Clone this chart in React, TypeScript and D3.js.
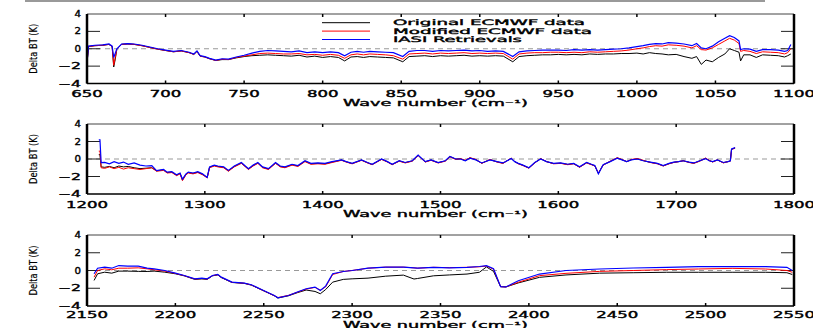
import React from "react";
import * as d3 from "d3";

// panel 1: 650-1100 cm-1
const wn1 = [650, 651, 655, 660, 664, 666, 667, 668, 669, 672,
  676, 680, 685, 690, 695, 700, 705, 710, 715, 718,
  720, 722, 725, 728, 732, 736, 740, 745, 750, 755,
  760, 765, 770, 775, 780, 785, 790, 795, 800, 805,
  810, 814, 818, 822, 826, 830, 835, 840, 845, 851,
  855, 860, 865, 870, 875, 880, 885, 890, 895, 900,
  905, 910, 915, 921, 925, 930, 935, 940, 945, 950,
  955, 960, 965, 970, 975, 980, 985, 990, 995, 1000,
  1004, 1008, 1012, 1016, 1020, 1025, 1030, 1035, 1038, 1041,
  1044, 1048, 1052, 1056, 1059, 1062, 1065, 1066, 1068, 1072,
  1076, 1080, 1085, 1090, 1094, 1096, 1098];
const orig1 = [-1.6, 0.25, 0.35, 0.4, 0.5, 0.25, -2.1, -1.2, -0.05, 0.5,
  0.55, 0.5, 0.35, 0.15, -0.05, -0.2, -0.35, -0.25, -0.45, -0.65,
  -0.3, -0.85, -0.95, -1.15, -1.35, -1.25, -1.25, -1.05, -0.9, -0.8,
  -0.75, -0.7, -0.75, -0.8, -0.85, -0.75, -0.95, -0.85, -1.0, -0.9,
  -1.0, -1.4, -0.95, -0.9, -1.0, -0.9, -0.95, -1.0, -1.05, -1.5,
  -0.9, -0.85, -0.8, -0.9, -0.8, -0.85, -0.8, -0.75, -0.85, -0.8,
  -0.85, -0.8, -0.85, -1.5, -0.9, -0.8, -0.75, -0.7, -0.7, -0.65,
  -0.7, -0.65, -0.7, -0.6, -0.65, -0.6, -0.6, -0.55, -0.55, -0.5,
  -0.6, -0.45, -0.55, -0.6, -0.7, -0.65, -0.9, -1.1, -0.9, -1.8,
  -1.3, -1.5, -1.0, -0.6, 0.0, -0.2, -0.4, -1.4, -0.7, -0.7,
  -1.0, -0.7, -0.75, -0.8, -0.95, -0.8, -0.6];
const mod1 = [-1.6, 0.25, 0.35, 0.4, 0.5, 0.25, -1.9, -1.0, -0.05, 0.5,
  0.55, 0.5, 0.35, 0.15, -0.05, -0.2, -0.35, -0.25, -0.45, -0.65,
  -0.3, -0.85, -0.95, -1.15, -1.35, -1.2, -1.25, -1.0, -0.85, -0.7,
  -0.55, -0.5, -0.55, -0.6, -0.6, -0.55, -0.7, -0.65, -0.75, -0.65,
  -0.75, -1.1, -0.7, -0.6, -0.7, -0.6, -0.65, -0.7, -0.8, -1.2,
  -0.6, -0.55, -0.5, -0.6, -0.5, -0.55, -0.5, -0.45, -0.55, -0.5,
  -0.55, -0.5, -0.55, -1.2, -0.6, -0.5, -0.45, -0.45, -0.4, -0.4,
  -0.45, -0.4, -0.45, -0.35, -0.4, -0.35, -0.3, -0.25, -0.15, 0.0,
  0.1, 0.25, 0.35, 0.3, 0.45, 0.4, 0.3, 0.1, 0.35, -0.1,
  -0.15, 0.1, 0.5, 0.9, 1.2, 1.0, 0.6, -0.3, -0.2, -0.3,
  -0.55, -0.35, -0.4, -0.45, -0.6, -0.45, 0.0];
const iasi1 = [-1.6, 0.3, 0.4, 0.45, 0.55, 0.3, -1.0, -0.5, 0.0, 0.55,
  0.6, 0.55, 0.4, 0.2, 0.0, -0.15, -0.3, -0.2, -0.4, -0.6,
  -0.25, -0.8, -0.9, -1.1, -1.3, -1.15, -1.2, -0.95, -0.75, -0.5,
  -0.3, -0.2, -0.25, -0.3, -0.35, -0.25, -0.45, -0.35, -0.45, -0.35,
  -0.45, -0.8, -0.4, -0.3, -0.4, -0.3, -0.35, -0.4, -0.45, -0.9,
  -0.3, -0.2, -0.2, -0.3, -0.2, -0.25, -0.2, -0.15, -0.25, -0.2,
  -0.3, -0.25, -0.3, -0.9, -0.35, -0.25, -0.2, -0.15, -0.15, -0.15,
  -0.2, -0.1, -0.15, -0.1, -0.15, -0.1, -0.05, 0.0, 0.1, 0.25,
  0.35, 0.5, 0.6, 0.55, 0.7, 0.65, 0.55, 0.35, 0.6, 0.1,
  0.0, 0.3, 0.8, 1.2, 1.5, 1.3, 0.9, -0.1, 0.0, -0.05,
  -0.3, -0.1, -0.1, -0.15, -0.3, -0.2, 0.5];

// panel 2: 1200-1800 cm-1
const wn2 = [1210, 1211, 1212, 1215, 1219, 1223, 1227, 1231, 1235, 1240,
  1245, 1250, 1255, 1259, 1265, 1268, 1272, 1276, 1279, 1281,
  1284, 1286, 1290, 1294, 1298, 1302, 1304, 1308, 1311, 1316,
  1320, 1325, 1331, 1337, 1341, 1345, 1349, 1354, 1360, 1364,
  1368, 1374, 1379, 1385, 1390, 1396, 1402, 1408, 1416, 1420,
  1425, 1433, 1438, 1442, 1450, 1455, 1459, 1465, 1470, 1476,
  1481, 1487, 1492, 1498, 1504, 1508, 1513, 1517, 1521, 1525,
  1530, 1535, 1542, 1548, 1553, 1560, 1563, 1566, 1570, 1575,
  1580, 1585, 1590, 1596, 1602, 1608, 1613, 1618, 1624, 1628,
  1631, 1634, 1638, 1644, 1650, 1654, 1658, 1662, 1667, 1672,
  1678, 1684, 1689, 1694, 1698, 1702, 1706, 1711, 1715, 1720,
  1725, 1728, 1731, 1735, 1740, 1744, 1746, 1747, 1750];
const orig2 = [0.5, 0.5, -0.9, -0.95, -0.85, -1.0, -0.8, -0.9, -0.85, -1.0,
  -1.1, -1.05, -1.0, -1.35, -1.25, -1.55, -1.5, -1.85, -1.65, -2.4,
  -1.75, -1.55, -1.65, -1.5, -1.75, -2.1, -0.95, -0.75, -0.85, -0.95,
  -1.35, -0.85, -0.45, -1.15, -0.75, -0.45, -0.95, -1.15, -0.45, -0.85,
  -0.95, -0.65, -0.8, -0.25, -0.55, -0.5, -0.55, -0.35, -0.12, -0.32,
  -0.52, -0.12, -0.42, -0.62, -0.02, -0.32, -0.62, -0.22, -0.42, -0.22,
  0.42, -0.32, -0.12, -0.42, -0.22, 0.28, -0.02, 0.02, -0.18, 0.12,
  -0.08, -0.48, -0.08, -0.32, -0.48, 0.08, -0.3, -0.52, -0.72, -1.02,
  -0.42, 0.02, -0.3, -0.52, -0.48, -0.62, -0.52, -0.92, -0.42, -0.62,
  -0.78, -1.65, -0.68, -0.28, 0.12, -0.08, -0.3, -0.08, 0.02, -0.18,
  -0.38, -0.52, -0.78, -0.52, -0.38, -0.3, -0.2, -0.38, -0.48, -0.22,
  0.08, -0.18, -0.32, -0.1, -0.42, -0.3, -0.22, 1.1, 1.25];
const mod2 = [0.9, 0.9, -1.0, -1.07, -0.9, -1.1, -0.95, -1.15, -1.0, -1.1,
  -1.2, -1.1, -1.0, -1.4, -1.3, -1.6, -1.55, -1.9, -1.7, -2.48,
  -1.8, -1.6, -1.7, -1.55, -1.8, -2.15, -1.0, -0.8, -0.9, -1.0,
  -1.4, -0.9, -0.5, -1.2, -0.8, -0.5, -1.0, -1.2, -0.5, -0.9,
  -1.0, -0.7, -0.85, -0.3, -0.6, -0.55, -0.6, -0.4, -0.15, -0.35,
  -0.55, -0.15, -0.45, -0.65, -0.05, -0.35, -0.65, -0.25, -0.45, -0.25,
  0.4, -0.35, -0.15, -0.45, -0.25, 0.25, -0.05, 0.05, -0.15, 0.15,
  -0.05, -0.5, -0.05, -0.35, -0.5, 0.1, -0.3, -0.55, -0.75, -1.05,
  -0.45, 0.05, -0.3, -0.55, -0.5, -0.65, -0.55, -0.95, -0.45, -0.65,
  -0.8, -1.6, -0.7, -0.25, 0.15, -0.05, -0.3, -0.05, 0.05, -0.15,
  -0.4, -0.55, -0.8, -0.55, -0.4, -0.3, -0.2, -0.4, -0.5, -0.25,
  0.1, -0.15, -0.35, -0.1, -0.45, -0.3, -0.25, 1.1, 1.25];
const iasi2 = [2.2, 2.2, -0.4, -0.38, -0.55, -0.3, -0.5, -0.35, -0.6, -0.45,
  -0.7, -0.8, -0.75, -1.33, -1.2, -1.5, -1.45, -1.8, -1.6, -2.3,
  -1.7, -1.5, -1.6, -1.45, -1.7, -2.1, -0.9, -0.7, -0.8, -0.9,
  -1.3, -0.8, -0.4, -1.1, -0.7, -0.4, -0.9, -1.1, -0.4, -0.8,
  -0.9, -0.6, -0.75, -0.2, -0.5, -0.45, -0.5, -0.3, -0.1, -0.3,
  -0.5, -0.1, -0.4, -0.6, 0.0, -0.3, -0.6, -0.2, -0.4, -0.2,
  0.45, -0.3, -0.1, -0.4, -0.2, 0.3, 0.0, 0.0, -0.2, 0.1,
  -0.1, -0.45, -0.1, -0.3, -0.45, 0.05, -0.3, -0.5, -0.7, -1.0,
  -0.4, 0.0, -0.3, -0.5, -0.45, -0.6, -0.5, -0.9, -0.4, -0.6,
  -0.75, -1.7, -0.65, -0.3, 0.1, -0.1, -0.3, -0.1, 0.0, -0.2,
  -0.35, -0.5, -0.75, -0.5, -0.35, -0.3, -0.2, -0.35, -0.45, -0.2,
  0.05, -0.2, -0.3, -0.1, -0.4, -0.3, -0.2, 1.15, 1.3];

// panel 3: 2150-2550 cm-1
const wn3 = [2154, 2156, 2160, 2164, 2168, 2173, 2179, 2184, 2188, 2194,
  2200, 2205, 2211, 2215, 2218, 2221, 2224, 2226, 2232, 2239,
  2243, 2249, 2256, 2258, 2264, 2269, 2274, 2279, 2282, 2285,
  2289, 2295, 2300, 2309, 2319, 2329, 2335, 2337, 2346, 2355,
  2365, 2372, 2376, 2380, 2384, 2387, 2394, 2406, 2421, 2440,
  2459, 2478, 2496, 2515, 2534, 2546, 2549];
const orig3 = [-1.12, -0.37, -0.19, -0.3, -0.07, -0.07, -0.1, -0.11, -0.07, -0.19,
  -0.37, -0.6, -1.0, -0.95, -1.0, -0.6, -0.5, -0.8, -1.35, -1.45,
  -1.65, -2.2, -2.85, -3.1, -2.85, -2.5, -2.2, -2.36, -2.62, -2.15,
  -1.31, -1.0, -0.94, -0.86, -0.64, -0.52, -0.96, -0.9, -0.6, -0.5,
  -0.4, -0.2, 0.4, -0.1, -1.82, -1.85, -1.4, -0.77, -0.5, -0.3,
  -0.25, -0.2, -0.2, -0.2, -0.2, -0.25, -0.45];
const mod3 = [-0.75, 0.0, 0.19, 0.08, 0.26, 0.26, 0.3, 0.19, 0.08, -0.07,
  -0.33, -0.58, -0.96, -0.9, -0.96, -0.58, -0.47, -0.77, -1.33, -1.44,
  -1.63, -2.19, -2.84, -3.05, -2.8, -2.45, -2.1, -1.9, -2.22, -1.85,
  -0.45, -0.11, 0.0, 0.26, 0.38, 0.38, 0.3, 0.26, 0.36, 0.32,
  0.36, 0.42, 0.5, 0.15, -1.82, -1.85, -1.33, -0.58, -0.32, -0.1,
  0.0, 0.1, 0.17, 0.24, 0.17, 0.0, -0.2];
const iasi3 = [-0.37, 0.26, 0.38, 0.26, 0.56, 0.49, 0.49, 0.26, 0.19, 0.0,
  -0.3, -0.56, -0.94, -0.86, -0.94, -0.56, -0.45, -0.75, -1.31, -1.42,
  -1.61, -2.17, -2.82, -3.08, -2.82, -2.43, -2.06, -1.87, -2.25, -1.76,
  -0.37, -0.11, 0.0, 0.26, 0.38, 0.38, 0.3, 0.26, 0.36, 0.3,
  0.36, 0.45, 0.54, 0.2, -1.82, -1.85, -1.15, -0.4, 0.0, 0.17,
  0.28, 0.36, 0.43, 0.43, 0.43, 0.36, 0.0];

const xTicks1 = [650, 700, 750, 800, 850, 900, 950, 1000, 1050, 1100];
const xTicks2 = [1200, 1300, 1400, 1500, 1600, 1700, 1800];
const xTicks3 = [2150, 2200, 2250, 2300, 2350, 2400, 2450, 2500, 2550];
const yTicks = [4, 2, 0, -2, -4];
const seriesNames = ["Original ECMWF data", "Modified ECMWF data", "IASI Retrievals"];
const seriesColors = ["#000000", "#ff0000", "#0000ff"];

const FONT = "'DejaVu Sans', Verdana, sans-serif";
const X0 = 87;
const X1 = 794;

type PanelProps = {
  top: number;
  bottom: number;
  domain: [number, number];
  ticks: number[];
  wn: number[];
  series: number[][];
  legend?: boolean;
};

// stroke-ish text so it reads a bit heavier, like the old vector font
const txt = { fontFamily: FONT, fill: "#000", stroke: "#000", strokeWidth: 0.35 };

function Panel({ top, bottom, domain, ticks, wn, series, legend }: PanelProps) {
  const x = d3.scaleLinear().domain(domain).range([X0, X1]);
  const y = d3.scaleLinear().domain([-4, 4]).range([bottom, top]);
  const line = d3
    .line<number>()
    .x((_, i) => x(wn[i]))
    .y((v) => y(v));
  const midY = (top + bottom) / 2;
  // last panel sits at the page edge, squeeze its labels up a bit
  const labelY = Math.min(bottom + 13.5, 317.5);
  const titleY = Math.min(bottom + 22.5, 327.5);

  return (
    <g>
      {/* zero line */}
      <line x1={X0} x2={X1} y1={y(0)} y2={y(0)} stroke="#999" strokeWidth={1} strokeDasharray="5,4" />

      {/* y ticks, both sides */}
      {[2, 0, -2].map((t) => (
        <g key={t}>
          <line x1={X0} x2={X0 + 13} y1={y(t)} y2={y(t)} stroke="#222" strokeWidth={1} />
          <line x1={X1 - 13} x2={X1} y1={y(t)} y2={y(t)} stroke="#222" strokeWidth={1} />
        </g>
      ))}

      {series.map((s, i) => (
        <path key={i} d={line(s) || ""} fill="none" stroke={seriesColors[i]} strokeWidth={i === 2 ? 1.2 : 1} />
      ))}

      {/* frame */}
      <line x1={X0} x2={X1} y1={top} y2={top} stroke="#444" strokeWidth={1} />
      <line x1={X0} x2={X1} y1={bottom} y2={bottom} stroke="#000" strokeWidth={1.5} />
      <line x1={X0} x2={X0} y1={top} y2={bottom} stroke="#000" strokeWidth={2.5} />
      <line x1={X1} x2={X1} y1={top} y2={bottom} stroke="#000" strokeWidth={2.5} />

      {ticks.map((t) => (
        <g key={t}>
          <line x1={x(t)} x2={x(t)} y1={top} y2={top + 3} stroke="#000" strokeWidth={1.5} />
          <line x1={x(t)} x2={x(t)} y1={bottom} y2={bottom - 3} stroke="#000" strokeWidth={1.5} />
          <text
            {...txt}
            x={x(t)}
            y={labelY}
            textAnchor="middle"
            fontSize={8.2}
            textLength={String(t).length * 10.5}
            lengthAdjust="spacingAndGlyphs"
          >
            {t}
          </text>
        </g>
      ))}

      {yTicks.map((t) => {
        const label = t < 0 ? "\u2212" + Math.abs(t) : String(t);
        return (
          <text
            {...txt}
            key={t}
            x={81}
            y={y(t) + 3}
            textAnchor="end"
            fontSize={8.2}
            textLength={t < 0 ? 23 : 6.5}
            lengthAdjust="spacingAndGlyphs"
          >
            {label}
          </text>
        );
      })}

      <text
        {...txt}
        strokeWidth={0.2}
        transform={`translate(37,${midY}) rotate(-90)`}
        textAnchor="middle"
        fontSize={10.5}
        textLength={50}
        lengthAdjust="spacingAndGlyphs"
      >
        Delta BT (K)
      </text>

      <text
        {...txt}
        x={435.5}
        y={titleY}
        textAnchor="middle"
        fontSize={8}
        textLength={185}
        lengthAdjust="spacingAndGlyphs"
      >
        Wave number (cm⁻¹)
      </text>

      {legend &&
        seriesNames.map((n, i) => (
          <g key={n}>
            <line x1={322} x2={370} y1={22.7 + i * 8.4} y2={22.7 + i * 8.4} stroke={seriesColors[i]} strokeWidth={1} />
            <text
              {...txt}
              x={393}
              y={25.3 + i * 8.3}
              fontSize={7.6}
              textLength={[192, 199, 129][i]}
              lengthAdjust="spacingAndGlyphs"
            >
              {n}
            </text>
          </g>
        ))}
    </g>
  );
}

export default function App() {
  return (
    <svg
      width={813}
      height={328}
      style={{ position: "absolute", left: 0, top: 0, background: "#fff" }}
    >
      <rect width={813} height={328} fill="#fff" />
      <line x1={25} x2={765} y1={1} y2={1} stroke="#777" strokeWidth={1.5} />
      <Panel top={14} bottom={83.5} domain={[650, 1100]} ticks={xTicks1} wn={wn1} series={[orig1, mod1, iasi1]} legend />
      <Panel top={124} bottom={194} domain={[1200, 1800]} ticks={xTicks2} wn={wn2} series={[orig2, mod2, iasi2]} />
      <Panel top={235} bottom={306} domain={[2150, 2550]} ticks={xTicks3} wn={wn3} series={[orig3, mod3, iasi3]} />
    </svg>
  );
}
